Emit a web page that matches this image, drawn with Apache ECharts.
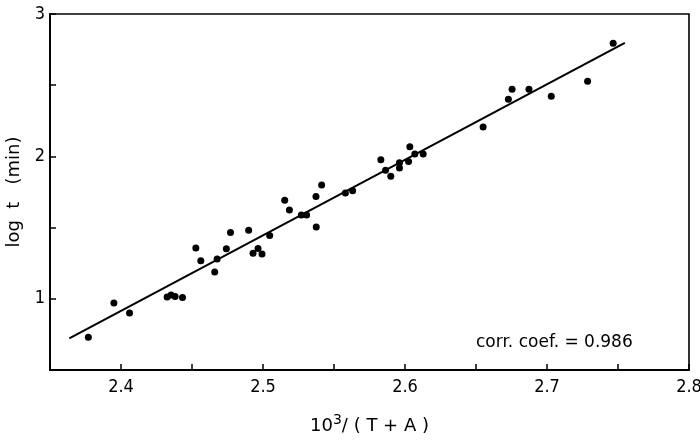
<!DOCTYPE html>
<html>
<head>
<meta charset="utf-8">
<script src="https://cdn.jsdelivr.net/npm/echarts@6/dist/echarts.min.js"></script>
<style>html,body{margin:0;padding:0;background:#fff}#c{width:700px;height:442px}</style>
</head>
<body>
<div id="c"></div>
<script>
var xValues = [2.377,2.395,2.406,2.4325,2.4353,2.4381,2.4433,2.4527,2.4562,2.466,2.4677,2.4742,2.4771,2.4899,2.493,2.4965,2.4993,2.5047,2.5153,2.5186,2.527,2.5307,2.5375,2.5373,2.5413,2.558,2.5631,2.583,2.5863,2.590,2.5961,2.5961,2.6025,2.6034,2.6069,2.6128,2.655,2.6728,2.6754,2.6873,2.703,2.7286,2.7466];
var yValues = [0.73,0.97,0.90,1.013,1.027,1.017,1.010,1.357,1.268,1.188,1.279,1.352,1.466,1.481,1.319,1.354,1.315,1.445,1.692,1.624,1.588,1.588,1.504,1.719,1.799,1.743,1.759,1.977,1.902,1.860,1.956,1.919,1.965,2.068,2.017,2.017,2.206,2.401,2.471,2.471,2.422,2.527,2.794];
var fitX = [2.3636, 2.7548];
var fitY = [0.722, 2.798];
var xTickLabels = ['2.4','2.5','2.6','2.7','2.8'];
var yTickLabels = ['1','2','3'];
var corrText = 'corr. coef. = 0.986';

var pts = xValues.map(function(x,i){return [x,yValues[i]];});
var fitPts = fitX.map(function(x,i){return [x,fitY[i]];});
var font = "'DejaVu Sans Condensed','DejaVu Sans',sans-serif";
var wide = "'DejaVu Sans',sans-serif";

var chart = echarts.init(document.getElementById('c'));
chart.setOption({
  animation:false,
  backgroundColor:'#fff',
  grid:{left:50,right:11,top:14,bottom:72,outerBoundsMode:'none',containLabel:false,show:true,borderColor:'#000',borderWidth:1.6,backgroundColor:'transparent'},
  xAxis:{
    type:'value',min:2.35,max:2.8,interval:0.05,
    axisLine:{lineStyle:{color:'#000',width:1.8}},
    axisTick:{inside:true,length:6,lineStyle:{color:'#000',width:1.5}},
    splitLine:{show:false},
    axisLabel:{color:'#000',fontSize:18,fontFamily:font,margin:8,
      formatter:function(v){var s=v.toFixed(1);return (Math.abs(v*10-Math.round(v*10))<1e-6 && xTickLabels.indexOf(s)>=0)?s:'';}},
    name:'10{s|3}/ ( T + A )',nameLocation:'middle',nameGap:43,
    nameTextStyle:{color:'#000',fontSize:18,fontFamily:wide,
      rich:{s:{fontSize:14,verticalAlign:'top',padding:[0,0,12,0],fontFamily:wide,color:'#000'}}}
  },
  yAxis:{
    type:'value',min:0.5,max:3,interval:0.5,
    axisLine:{show:true,lineStyle:{color:'#000',width:1.8}},
    axisTick:{show:true,inside:true,length:6,lineStyle:{color:'#000',width:1.5}},
    splitLine:{show:false},
    axisLabel:{color:'#000',fontSize:18,fontFamily:font,margin:5,
      formatter:function(v){var s=String(Math.round(v));return (Math.abs(v-Math.round(v))<1e-6 && yTickLabels.indexOf(s)>=0)?s:'';}},
    name:'log  t   (min)',nameLocation:'middle',nameGap:24,
    nameTextStyle:{color:'#000',fontSize:18,fontFamily:wide}
  },
  series:[
    {type:'line',data:fitPts,showSymbol:false,symbol:'none',lineStyle:{color:'#000',width:2},z:2},
    {type:'scatter',data:pts,symbolSize:7,itemStyle:{color:'#000',opacity:1},z:3}
  ],
  graphic:[{type:'text',left:476,top:334,style:{text:corrText,fill:'#000',font:"17px "+wide}}]
});
</script>
</body>
</html>
